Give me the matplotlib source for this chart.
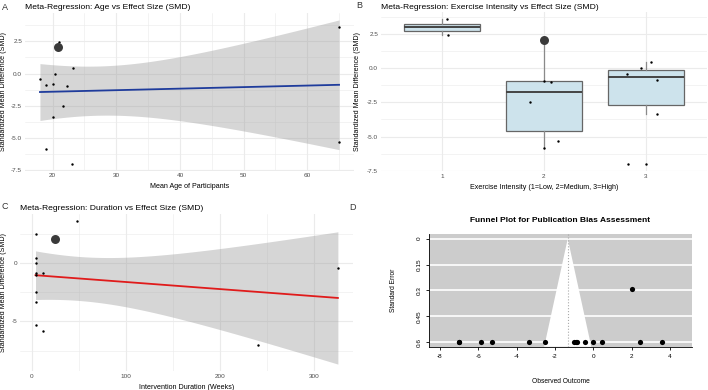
import numpy as np
import matplotlib.pyplot as plt
from matplotlib.ticker import AutoMinorLocator, FixedLocator

plt.rcParams['font.family'] = ['Liberation Sans', 'DejaVu Sans']
plt.rcParams['axes.unicode_minus'] = False

# study level data; nan = not reported
smd = np.array([-7.0, -7.0, -5.85, -5.3, -3.35, -2.5, -1.0, -0.9, -0.85, -0.45, 0.0, 0.45, 2.05, 2.45, 3.6])
se = np.array([0.6, 0.6, 0.6, 0.6, 0.6, 0.6, 0.6, 0.6, 0.6, 0.6, 0.6, 0.6, 0.29, 0.6, 0.6])
age = np.array([23, np.nan, 19, 65, 20, 21.6, 22.2, 19, 20, 18, 20.4, 23.2, 20.9, 21, 65])
duration = np.array([240, np.nan, 12, 4, 4, 5, 4, 12, 4, 325, 4, 4, 25, 4, 48])
intensity = np.array([3, 3, 2, 2, 3, 2, 2, 2, 3, 3, 3, 3, 2, 1, 1])
intensity_jit = np.array([2.83, 3.0, 2.0, 2.14, 3.11, 1.86, 2.07, 2.0, 3.11, 2.82, 2.95, 3.05, 2.0, 1.06, 1.05])

# boxplot summary per intensity level
box_pos = [1, 2, 3]
box_q1 = [2.72, -4.6, -2.72]
box_med = [3.0, -1.75, -0.65]
box_q3 = [3.26, -0.92, -0.1]
box_lo = [2.45, -5.85, -3.35]
box_hi = [3.6, 2.05, 0.45]

pooled_est = -1.33   # funnel centre
T_CRIT = 2.179       # t(0.975, df=12)

big = se < 0.5
fig = plt.figure(figsize=(7.08, 3.9), dpi=100)


def minimal(ax):
    for s in ax.spines.values():
        s.set_visible(False)
    ax.tick_params(which='both', length=0, labelsize=4.6, labelcolor='#4d4d4d', pad=2)
    ax.grid(which='major', color='#ebebeb', lw=0.8)
    ax.grid(which='minor', color='#ebebeb', lw=0.4)
    ax.set_axisbelow(True)


def lm_band(ax, x, y, color):
    ok = ~np.isnan(x)
    x, y = x[ok], y[ok]
    xb = x.mean()
    sxx = ((x - xb) ** 2).sum()
    b1 = ((x - xb) * (y - y.mean())).sum() / sxx
    b0 = y.mean() - b1 * xb
    resid = y - (b0 + b1 * x)
    s = np.sqrt((resid ** 2).sum() / (len(x) - 2))
    xs = np.linspace(x.min(), x.max(), 80)
    fit = b0 + b1 * xs
    half = T_CRIT * s * np.sqrt(1 / len(x) + (xs - xb) ** 2 / sxx)
    ax.fill_between(xs, fit - half, fit + half, color='#999999', alpha=0.4, lw=0, zorder=2)
    ax.plot(xs, fit, color=color, lw=1.3, zorder=3)


def points(ax, x, y):
    ax.scatter(x[~big], y[~big], s=3, c='black', lw=0, zorder=4)
    ax.scatter(x[big], y[big], s=42, c='#3a3a3a', lw=0, zorder=5)


ylab = 'Standardized Mean Difference (SMD)'
TS, LS = 6.1, 5.1

# A: age
axA = fig.add_axes([0.0353, 0.5623, 0.4647, 0.405])
minimal(axA)
lm_band(axA, age, smd, '#1f3c9c')
points(axA, age, smd)
axA.margins(0.05)
axA.xaxis.set_major_locator(FixedLocator([20, 30, 40, 50, 60]))
axA.xaxis.set_minor_locator(AutoMinorLocator(2))
axA.yaxis.set_major_locator(FixedLocator([-7.5, -5.0, -2.5, 0.0, 2.5]))
axA.yaxis.set_minor_locator(AutoMinorLocator(2))
axA.set_yticklabels(['-7.5', '-5.0', '-2.5', '0.0', '2.5'])
axA.set_title('Meta-Regression: Age vs Effect Size (SMD)', loc='left', fontsize=TS, pad=2.5)
axA.set_xlabel('Mean Age of Participants', fontsize=LS)
axA.set_ylabel(ylab, fontsize=LS)
axA.xaxis.set_label_coords(0.5, -0.08)
axA.yaxis.set_label_coords(-0.055, 0.5)

# B: intensity
axB = fig.add_axes([0.538, 0.5615, 0.4605, 0.4077])
minimal(axB)
stats = [dict(med=m, q1=a, q3=b, whislo=lo, whishi=hi)
         for m, a, b, lo, hi in zip(box_med, box_q1, box_q3, box_lo, box_hi)]
axB.bxp(stats, positions=box_pos, widths=0.75, showfliers=False, showcaps=False, patch_artist=True,
        boxprops=dict(facecolor='#cde3ec', edgecolor='#666666', lw=0.9),
        whiskerprops=dict(color='#8a8a8a', lw=0.9),
        medianprops=dict(color='#444444', lw=1.4), zorder=2)
points(axB, intensity_jit, smd)
axB.set_xlim(0.4, 3.6)
axB.set_ylim(-7.53, 4.13)
axB.xaxis.set_major_locator(FixedLocator([1, 2, 3]))
axB.set_xticklabels(['1', '2', '3'])
axB.xaxis.set_minor_locator(FixedLocator([]))
axB.yaxis.set_major_locator(FixedLocator([-7.5, -5.0, -2.5, 0.0, 2.5]))
axB.yaxis.set_minor_locator(AutoMinorLocator(2))
axB.set_yticklabels(['-7.5', '-5.0', '-2.5', '0.0', '2.5'])
axB.set_title('Meta-Regression: Exercise Intensity vs Effect Size (SMD)', loc='left', fontsize=TS, pad=2.5)
axB.set_xlabel('Exercise Intensity (1=Low, 2=Medium, 3=High)', fontsize=LS)
axB.set_ylabel(ylab, fontsize=LS)
axB.xaxis.set_label_coords(0.5, -0.08)
axB.yaxis.set_label_coords(-0.061, 0.5)

# C: duration
axC = fig.add_axes([0.0288, 0.048, 0.4698, 0.4044])
minimal(axC)
lm_band(axC, duration, smd, '#e01b1b')
points(axC, duration, smd)
axC.margins(0.05)
axC.xaxis.set_major_locator(FixedLocator([0, 100, 200, 300]))
axC.xaxis.set_minor_locator(AutoMinorLocator(2))
axC.yaxis.set_major_locator(FixedLocator([-5, 0]))
axC.yaxis.set_minor_locator(FixedLocator([-7.5, -2.5, 2.5]))
axC.set_title('Meta-Regression: Duration vs Effect Size (SMD)', loc='left', fontsize=TS, pad=2.5)
axC.set_xlabel('Intervention Duration (Weeks)', fontsize=LS)
axC.set_ylabel(ylab, fontsize=LS)
axC.xaxis.set_label_coords(0.5, -0.082)
axC.yaxis.set_label_coords(-0.04, 0.5)

# D: funnel plot
axD = fig.add_axes([0.606, 0.111, 0.3715, 0.289])
axD.set_facecolor('#cccccc')
axD.set_xlim(-8.57, 5.16)
axD.set_ylim(0.627, -0.027)
se_ticks = [0, 0.15, 0.3, 0.45, 0.6]
for t in se_ticks:
    axD.axhline(t, color='white', lw=1.2, zorder=1)
se_edge = np.array([0, 0.627])
axD.fill(np.r_[pooled_est - 1.96 * se_edge[::-1], pooled_est + 1.96 * se_edge],
         np.r_[se_edge[::-1], se_edge], color='white', lw=0, zorder=2)
axD.axvline(pooled_est, color='#aaaaaa', ls=':', lw=0.8, zorder=3)
axD.scatter(smd, se, s=14, c='black', lw=0, zorder=5, clip_on=False)
axD.spines['top'].set_visible(False)
axD.spines['right'].set_visible(False)
for s in ('left', 'bottom'):
    axD.spines[s].set_linewidth(0.6)
axD.set_xticks(np.arange(-8, 5, 2))
axD.set_yticks(se_ticks)
axD.set_yticklabels(['0', '0.15', '0.3', '0.45', '0.6'], rotation=90, va='center')
axD.tick_params(labelsize=4.6, length=2.5, width=0.6, pad=3)
axD.set_title('Funnel Plot for Publication Bias Assessment', fontsize=6, fontweight='bold', pad=8.5)
axD.set_xlabel('Observed Outcome', fontsize=4.8)
axD.set_ylabel('Standard Error', fontsize=4.8)
axD.xaxis.set_label_coords(0.5, -0.276)
axD.yaxis.set_label_coords(-0.122, 0.5)

# panel letters
for lbl, x, y in [('A', 4.5, 7), ('B', 359, 6), ('C', 4.5, 206.5), ('D', 352, 207.5)]:
    fig.text(x / 708, 1 - y / 390, lbl, fontsize=6.5, color='#333333', ha='center', va='center')

fig.savefig('out.png', dpi=100)
